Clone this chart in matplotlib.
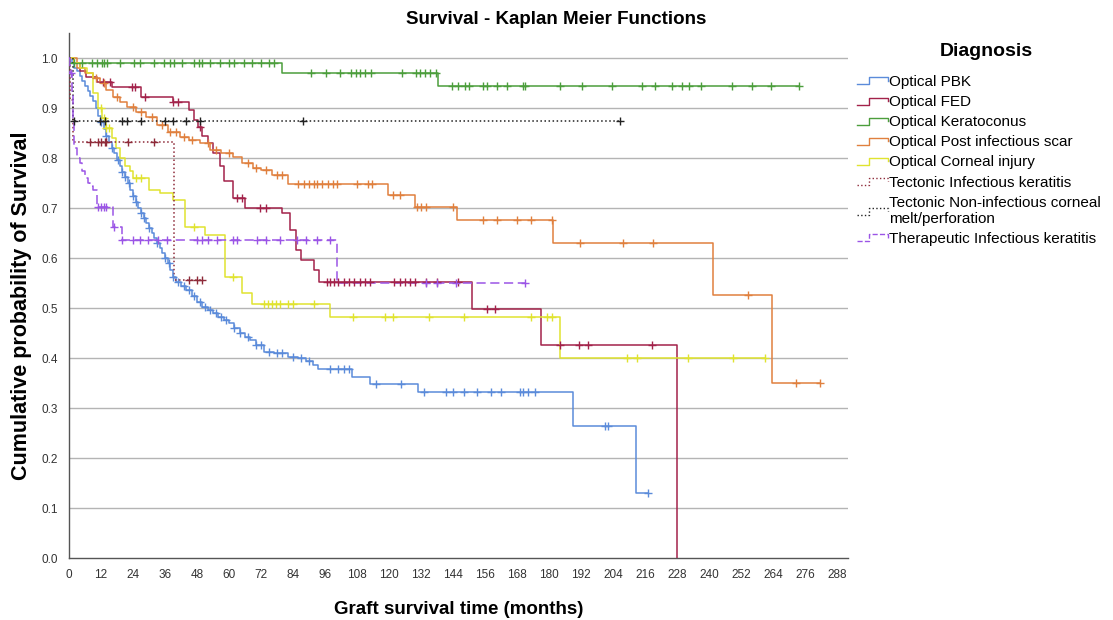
"""Kaplan-Meier graft survival curves by diagnosis, redrawn from the published figure."""

from __future__ import annotations

import matplotlib
import numpy as np

matplotlib.use("Agg")
import matplotlib.pyplot as plt
from matplotlib.legend_handler import HandlerBase
from matplotlib.lines import Line2D

plt.rcParams["font.family"] = ["Liberation Sans", "DejaVu Sans"]

# event times (months) and survival after each step, plus censored times
pbk_times = [0, 1, 2, 3, 4, 5, 6, 7, 8, 9, 10, 11, 12, 13, 14, 15, 16, 17, 18, 19, 20,
             21, 22, 23, 24, 25, 26, 27, 28, 29, 30, 31, 32, 33, 34, 35, 36, 37, 38, 39,
             40, 42, 44, 46, 48, 50, 52, 54, 56, 58, 60, 62, 64, 66, 68, 70, 73, 77, 82,
             86, 89, 91.5, 93.5, 106, 113, 131, 189, 212.5]
pbk_surv = [1.0, 0.99, 0.98, 0.975, 0.965, 0.955, 0.945, 0.935, 0.925, 0.915, 0.9, 0.885,
            0.872, 0.858, 0.845, 0.832, 0.82, 0.81, 0.797, 0.785, 0.773, 0.762, 0.75, 0.737,
            0.725, 0.713, 0.7, 0.69, 0.68, 0.67, 0.66, 0.65, 0.64, 0.63, 0.62, 0.61, 0.6,
            0.59, 0.577, 0.563, 0.553, 0.545, 0.537, 0.525, 0.513, 0.503, 0.497, 0.49, 0.483,
            0.477, 0.47, 0.46, 0.45, 0.443, 0.437, 0.427, 0.413, 0.41, 0.403, 0.4, 0.395,
            0.387, 0.378, 0.363, 0.348, 0.332, 0.264, 0.131]
pbk_censor = [12, 14, 16, 18.5, 20, 21, 22.5, 24, 25, 27, 28, 30, 33, 36, 37.5, 39, 41, 43,
              45, 47, 49, 51, 53, 55, 57, 59, 62, 64, 67, 70, 72, 75, 78, 80, 84, 87, 90,
              98, 101, 103, 105, 115, 124.5, 133, 141.5, 144, 148, 153, 158, 162, 169, 170,
              172, 174.6, 201, 202, 217]

fed_times = [0, 2, 4, 6.5, 10.5, 16, 27, 39, 45, 46.7, 48.5, 50, 52, 54, 56.5, 58, 61.5, 66,
             80, 83, 85, 87, 92, 93.6, 151, 177, 227.8]
fed_surv = [1.0, 0.99, 0.975, 0.963, 0.953, 0.943, 0.923, 0.913, 0.897, 0.877, 0.863, 0.845,
            0.83, 0.81, 0.785, 0.755, 0.72, 0.7, 0.69, 0.657, 0.617, 0.597, 0.577, 0.553,
            0.499, 0.427, 0.0]
fed_censor = [12.8, 15.4, 23.6, 24.7, 28.5, 39, 41, 49, 63, 65, 71.6, 74, 96.7, 98, 99.5,
              101, 103, 105, 107, 109, 111, 113, 122, 124, 126, 128, 129.7, 134, 138, 145.8,
              156.6, 159.7, 184, 191, 194.6, 218.6]

kc_times = [0, 0.5, 80, 138.5]
kc_surv = [1.0, 0.99, 0.97, 0.945]
kc_censor = [2, 5, 8.6, 10.5, 12.4, 13.3, 14.3, 19, 24.4, 26.6, 32, 35.6, 38, 39.4, 42.4,
             46.9, 48.7, 49.9, 53, 56.6, 60, 62, 65.6, 68.6, 72, 75, 77, 90.6, 96.3, 101.6,
             105.6, 107.5, 109, 110.9, 113.1, 125, 129.9, 131.7, 133.6, 135.5, 137.4, 143.6,
             146, 148.5, 150, 155, 156.7, 160.5, 164, 170, 171, 184, 192.4, 203.6, 214.8,
             219.7, 226, 229.9, 232.5, 237, 248.6, 256, 263, 273.5]

scar_times = [0, 3, 6, 9, 11.6, 14, 16.5, 19, 21.7, 25, 29, 33, 37, 41.6, 45, 49, 53, 57,
              61.5, 65, 69, 72, 76, 82, 119.7, 129.7, 145.4, 181.6, 241.5, 263.5]
scar_surv = [1.0, 0.98, 0.97, 0.96, 0.95, 0.937, 0.923, 0.913, 0.903, 0.893, 0.883, 0.867,
             0.853, 0.843, 0.837, 0.83, 0.817, 0.81, 0.803, 0.79, 0.78, 0.777, 0.767, 0.749,
             0.727, 0.703, 0.677, 0.631, 0.527, 0.35]
scar_censor = [10, 13, 18, 24, 27, 31, 35, 38, 40, 43, 46, 52, 55, 60, 67, 70, 74, 78, 80,
               86, 88, 90, 92, 93, 95, 97, 99, 100.5, 108, 112, 113.6, 121.5, 124, 130.5,
               132, 134, 144, 155, 160.5, 168, 173, 181, 191.6, 207.8, 219, 254.6, 272.4,
               281.6]

injury_times = [0, 2, 4, 6.7, 9, 11, 12.5, 14, 16, 17.5, 19, 21, 23, 24, 30, 34, 39, 43.5,
                51, 58.5, 65, 68.6, 98, 184]
injury_surv = [1.0, 0.99, 0.98, 0.97, 0.93, 0.9, 0.88, 0.86, 0.84, 0.82, 0.8, 0.785, 0.775,
               0.76, 0.737, 0.73, 0.717, 0.663, 0.647, 0.563, 0.53, 0.508, 0.483, 0.4]
injury_censor = [12, 13, 14, 15, 25, 27, 47, 61.6, 73, 74.5, 76, 77.5, 79, 82, 84, 92,
                 106.6, 118.5, 121.5, 135, 148, 173, 179, 181, 209, 213, 232, 249, 261]

tect_inf_times = [0, 0.5, 1.5, 39.5]
tect_inf_surv = [1.0, 0.917, 0.833, 0.556]
tect_inf_censor = [8, 11, 12, 13.5, 14, 22, 32, 45, 48, 50]

tect_melt_times = [0, 1.5]
tect_melt_surv = [1.0, 0.875]
tect_melt_censor = [2, 11.6, 13.5, 20, 21.7, 27, 36, 39, 44, 49, 87.7, 206.5]

ther_times = [0, 0.5, 1, 1.5, 2, 3, 4, 5, 6, 7, 8, 9, 10.5, 16.5, 20, 100.3]
ther_surv = [1.0, 0.97, 0.93, 0.88, 0.82, 0.8, 0.79, 0.775, 0.76, 0.75, 0.745, 0.737, 0.703,
             0.663, 0.637, 0.55]
ther_censor = [0.8, 11, 12, 13, 14, 17, 20, 24, 26.6, 29.6, 33.4, 36.7, 48, 50, 52, 55.5,
               61.5, 63, 70.5, 74, 79, 85.5, 89, 93, 98, 134, 138, 145, 171]

GROUPS = [
    ("Optical PBK", pbk_times, pbk_surv, pbk_censor, "#5b8bda", "-"),
    ("Optical FED", fed_times, fed_surv, fed_censor, "#a3224a", "-"),
    ("Optical Keratoconus", kc_times, kc_surv, kc_censor, "#4c9e3c", "-"),
    ("Optical Post infectious scar", scar_times, scar_surv, scar_censor, "#e0803e", "-"),
    ("Optical Corneal injury", injury_times, injury_surv, injury_censor, "#e0e330", "-"),
    ("Tectonic Infectious keratitis", tect_inf_times, tect_inf_surv, tect_inf_censor,
     "#8e2b3a", ":"),
    ("Tectonic Non-infectious corneal\nmelt/perforation", tect_melt_times, tect_melt_surv,
     tect_melt_censor, "#222222", ":"),
    ("Therapeutic Infectious keratitis", ther_times, ther_surv, ther_censor, "#9b55e6",
     (0, (6, 3))),
]


class StepHandler(HandlerBase):
    """Small step-shaped legend key like SPSS draws."""

    def create_artists(self, legend, orig_handle, xdescent, ydescent, width, height,
                       fontsize, trans):
        x0, y0 = -xdescent, -ydescent
        xs = [x0, x0 + 0.4 * width, x0 + 0.4 * width, x0 + width, x0 + width]
        ys = [y0 + 0.15 * height, y0 + 0.15 * height, y0 + 0.8 * height, y0 + 0.8 * height,
              y0 + 0.5 * height]
        line = Line2D(xs, ys, color=orig_handle.get_color(),
                      linestyle=orig_handle.get_linestyle(), lw=1.0)
        line.set_transform(trans)
        return [line]


fig = plt.figure(figsize=(11.13, 6.2), dpi=100)
ax = fig.add_axes([69 / 1113, 1 - 558.3 / 620, 779 / 1113, 525.3 / 620])

handles = []
for label, times, surv, censor, color, style in GROUPS:
    end = max(times[-1], max(censor))
    xs = list(times) + [end]
    ys = list(surv) + [surv[-1]]
    (line,) = ax.step(xs, ys, where="post", color=color, lw=1.1, linestyle=style,
                      label=label, zorder=3)
    idx = np.searchsorted(times, censor, side="right") - 1
    ax.plot(censor, np.asarray(surv)[idx], linestyle="none", marker="+", ms=6, mew=1.0,
            color=color, zorder=4)
    handles.append(line)

ax.set_xlim(0, 292)
ax.set_ylim(0, 1.05)
ax.set_xticks(np.arange(0, 289, 12))
ax.set_yticks(np.arange(0, 1.01, 0.1))
ax.set_yticklabels([f"{v:.1f}" for v in np.arange(0, 1.01, 0.1)])
ax.tick_params(axis="both", length=0, labelsize=8.5, labelcolor="#333333")
ax.tick_params(axis="x", pad=8)
ax.tick_params(axis="y", pad=8)
for v in np.arange(0.1, 1.01, 0.1):
    ax.axhline(v, color="#b4b4b4", lw=1.0, zorder=1)
for side in ("top", "right"):
    ax.spines[side].set_visible(False)
for side in ("left", "bottom"):
    ax.spines[side].set_color("#555555")
    ax.spines[side].set_linewidth(1.0)

ax.set_xlabel("Graft survival time (months)", fontsize=13.5, fontweight="bold")
ax.xaxis.set_label_coords(0.5, -0.082)
ax.set_ylabel("Cumulative probability of Survival", fontsize=15.5, fontweight="bold")
ax.yaxis.set_label_coords(-0.048, 0.48)
fig.text(0.5, 1 - 19.5 / 620, "Survival - Kaplan Meier Functions", fontsize=13.5,
         fontweight="bold", ha="center", va="center")

fig.text(986 / 1113, 1 - 52 / 620, "Diagnosis", fontsize=14, fontweight="bold",
         ha="center", va="center")
ax.legend(handles=handles, loc="upper left", bbox_to_anchor=(857 / 1113, 1 - 75 / 620),
          bbox_transform=fig.transFigure, frameon=False, fontsize=11,
          handler_map={Line2D: StepHandler()}, handlelength=2.0, handletextpad=0.12,
          labelspacing=0.4, borderpad=0, borderaxespad=0)

fig.savefig("out.png", dpi=100)
